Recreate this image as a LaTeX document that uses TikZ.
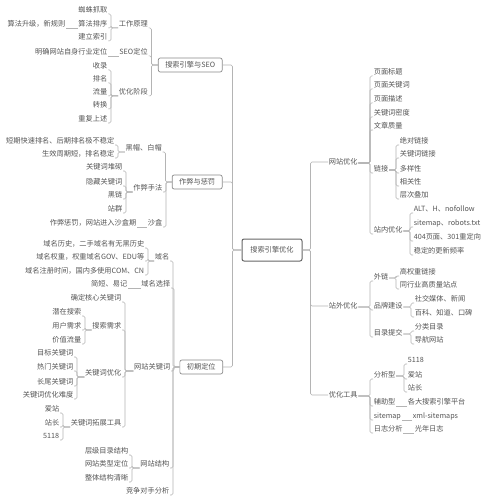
\documentclass[tikz,border=0pt]{standalone}
\usepackage{fontspec}
\newfontfamily\cjk{Noto Sans CJK SC}
\begin{document}
\begin{tikzpicture}[x=1pt,y=-1pt,
  tx/.style={font=\cjk\fontsize{7.2}{8}\selectfont, text=txtc, inner xsep=0.6pt, inner ysep=0.3pt, text height=5.6pt, text depth=1.3pt},
  bx/.style={tx, draw=boxc, line width=0.7pt, rounded corners=2pt, fill=white, inner xsep=7pt, minimum height=14pt},
  cbx/.style={tx, draw=cboxc, line width=1pt, rounded corners=2pt, fill=white, minimum width=60pt, minimum height=22pt},
  ln/.style={draw=linec, line width=0.6pt, rounded corners=1.5pt}]
\definecolor{txtc}{HTML}{555555}
\definecolor{linec}{HTML}{B4B4B4}
\definecolor{boxc}{HTML}{8A8A8A}
\definecolor{cboxc}{HTML}{666666}
\useasboundingbox (0,0) rectangle (488,500);
\fill[white] (0,0) rectangle (488,500);
\newcommand\Ln[4]{\node[tx,anchor=east] (#1) at (#2,#3) {#4};}
\newcommand\Rn[4]{\node[tx,anchor=west] (#1) at (#2,#3) {#4};}
% left: parent, child
\newcommand\Lc[2]{\draw[ln] (#2.south east) -- ++(3,0) |- (#1.south west);}
\newcommand\Ls[2]{\draw[ln] (#2.south east) -- (#1.south west);}
\newcommand\Lb[2]{\draw[ln] (#2.south east) -- ++(3,0) |- (#1.west);}
% right
\newcommand\Rc[2]{\draw[ln] (#2.south west) -- ++(-3,0) |- ([yshift=-1pt]#1.east);}
\newcommand\Rs[2]{\draw[ln] (#2.south west) -- (#1.south east);}

% centre
\node[cbx] (c) at (272,250) {搜索引擎优化};

% ---------- left ----------
\node[bx,anchor=east] (a1) at (222.5,65) {搜索引擎与SEO};
\Ln{a11}{148.5}{24}{工作原理}
\Ln{a111}{108}{10}{蜘蛛抓取}
\Ln{a112}{108}{24}{算法排序}
\Ln{a1121}{66}{24}{算法升级，新规则}
\Ln{a113}{108}{37}{建立索引}
\Ln{a12}{148.5}{52}{SEO定位}
\Ln{a121}{108}{52}{明确网站自身行业定位}
\Ln{a13}{148.5}{92}{优化阶段}
\Ln{a131}{108}{66}{收录}
\Ln{a132}{108}{79}{排名}
\Ln{a133}{108}{92}{流量}
\Ln{a134}{108}{105}{转换}
\Ln{a135}{108}{119}{重复上述}

\node[bx,anchor=east] (a2) at (222.5,182) {作弊与惩罚};
\Ln{a21}{162.5}{148}{黑帽、白帽}
\Ln{a211}{115}{141}{短期快速排名、后期排名极不稳定}
\Ln{a212}{115}{154}{生效周期短，排名稳定}
\Ln{a22}{163}{188}{作弊手法}
\Ln{a221}{123}{167}{关键词堆砌}
\Ln{a222}{123}{182}{隐藏关键词}
\Ln{a223}{123}{195}{黑链}
\Ln{a224}{123}{209}{站群}
\Ln{a23}{163}{223}{沙盒}
\Ln{a231}{137}{223}{作弊惩罚，网站进入沙盒期}

\node[bx,anchor=east] (a3) at (223,367) {初期定位};
\Ln{a31}{170}{257}{域名}
\Ln{a311}{145}{244}{域名历史，二手域名有无黑历史}
\Ln{a312}{145}{257}{域名权重，权重域名GOV、EDU等}
\Ln{a313}{145}{271}{域名注册时间，国内多使用COM、CN}
\Ln{a32}{171}{284}{域名选择}
\Ln{a321}{128}{284}{简短、易记}
\Ln{a33}{171}{367}{网站关键词}
\Ln{a331}{122}{298}{确定核心关键词}
\Ln{a332}{122}{326}{搜索需求}
\Ln{a3321}{82}{312}{潜在搜索}
\Ln{a3322}{82}{326}{用户需求}
\Ln{a3323}{82}{340}{价值流量}
\Ln{a333}{122}{373}{关键词优化}
\Ln{a3331}{74}{353}{目标关键词}
\Ln{a3332}{74}{367}{热门关键词}
\Ln{a3333}{74}{382}{长尾关键词}
\Ln{a3334}{74}{395}{关键词优化难度}
\Ln{a334}{122}{423}{关键词拓展工具}
\Ln{a3341}{60}{409}{爱站}
\Ln{a3342}{60}{423}{站长}
\Ln{a3343}{60}{436}{5118}
\Ln{a34}{170}{464}{网站结构}
\Ln{a341}{129}{451}{层级目录结构}
\Ln{a342}{129}{464}{网站类型定位}
\Ln{a343}{129}{478}{整体结构清晰}
\Ln{a35}{170}{491}{竞争对手分析}

% ---------- right ----------
\Rn{b1}{328}{162}{网站优化}
\Rn{b101}{373}{72}{页面标题}
\Rn{b102}{373}{85}{页面关键词}
\Rn{b103}{373}{99}{页面描述}
\Rn{b104}{373}{113}{关键词密度}
\Rn{b105}{373}{126}{文章质量}
\Rn{b12}{373}{169}{链接}
\Rn{b121}{399}{141}{绝对链接}
\Rn{b122}{399}{154}{关键词链接}
\Rn{b123}{399}{169}{多样性}
\Rn{b124}{399}{182}{相关性}
\Rn{b125}{399}{195}{层次叠加}
\Rn{b13}{373}{230}{站内优化}
\Rn{b131}{413}{209}{ALT、H、nofollow}
\Rn{b132}{413}{223}{sitemap、robots.txt}
\Rn{b133}{413}{237}{404页面、301重定向}
\Rn{b134}{413}{251}{稳定的更新频率}

\Rn{b2}{328}{306}{站外优化}
\Rn{b21}{373}{277}{外链}
\Rn{b211}{399}{272}{高权重链接}
\Rn{b212}{399}{285}{同行业高质量站点}
\Rn{b22}{373}{306}{品牌建设}
\Rn{b221}{414}{299}{社交媒体、新闻}
\Rn{b222}{414}{313}{百科、知道、口碑}
\Rn{b23}{373}{333}{目录提交}
\Rn{b231}{414}{327}{分类目录}
\Rn{b232}{414}{340}{导航网站}

\Rn{b3}{328}{395}{优化工具}
\Rn{b31}{373}{375}{分析型}
\Rn{b311}{407}{360}{5118}
\Rn{b312}{407}{375}{爱站}
\Rn{b313}{407}{388}{站长}
\Rn{b32}{373}{402}{辅助型}
\Rn{b321}{407}{402}{各大搜索引擎平台}
\Rn{b33}{373}{416}{sitemap}
\Rn{b331}{412}{416}{xml-sitemaps}
\Rn{b34}{373}{429}{日志分析}
\Rn{b341}{414}{429}{光年日志}

% ---------- connectors ----------
\foreach \p in {a1,a2,a3} {\draw[ln] (c.west) -- ++(-9,0) |- (\p.east);}
\foreach \p in {b1,b2,b3} {\draw[ln] (c.east) -- ++(8,0) |- (\p.west);}

\Lb{a1}{a11}\Lb{a1}{a12}\Lb{a1}{a13}
\Lc{a11}{a111}\Lc{a11}{a112}\Lc{a11}{a113}
\Ls{a112}{a1121}
\Ls{a12}{a121}
\Lc{a13}{a131}\Lc{a13}{a132}\Lc{a13}{a133}\Lc{a13}{a134}\Lc{a13}{a135}

\Lb{a2}{a21}\Lb{a2}{a22}\Lb{a2}{a23}
\Lc{a21}{a211}\Lc{a21}{a212}
\Lc{a22}{a221}\Lc{a22}{a222}\Lc{a22}{a223}\Lc{a22}{a224}
\Ls{a23}{a231}

\Lb{a3}{a31}\Lb{a3}{a32}\Lb{a3}{a33}\Lb{a3}{a34}\Lb{a3}{a35}
\Lc{a31}{a311}\Lc{a31}{a312}\Lc{a31}{a313}
\Ls{a32}{a321}
\Lc{a33}{a331}\Lc{a33}{a332}\Lc{a33}{a333}\Lc{a33}{a334}
\Lc{a332}{a3321}\Lc{a332}{a3322}\Lc{a332}{a3323}
\Lc{a333}{a3331}\Lc{a333}{a3332}\Lc{a333}{a3333}\Lc{a333}{a3334}
\Lc{a334}{a3341}\Lc{a334}{a3342}\Lc{a334}{a3343}
\Lc{a34}{a341}\Lc{a34}{a342}\Lc{a34}{a343}

\Rc{b1}{b101}\Rc{b1}{b102}\Rc{b1}{b103}\Rc{b1}{b104}\Rc{b1}{b105}\Rc{b1}{b12}\Rc{b1}{b13}
\Rc{b12}{b121}\Rc{b12}{b122}\Rc{b12}{b123}\Rc{b12}{b124}\Rc{b12}{b125}
\Rc{b13}{b131}\Rc{b13}{b132}\Rc{b13}{b133}\Rc{b13}{b134}
\Rc{b2}{b21}\Rc{b2}{b22}\Rc{b2}{b23}
\Rc{b21}{b211}\Rc{b21}{b212}
\Rc{b22}{b221}\Rc{b22}{b222}
\Rc{b23}{b231}\Rc{b23}{b232}
\Rc{b3}{b31}\Rc{b3}{b32}\Rc{b3}{b33}\Rc{b3}{b34}
\Rc{b31}{b311}\Rc{b31}{b312}\Rc{b31}{b313}
\Rs{b32}{b321}\Rs{b33}{b331}\Rs{b34}{b341}
\end{tikzpicture}
\end{document}
